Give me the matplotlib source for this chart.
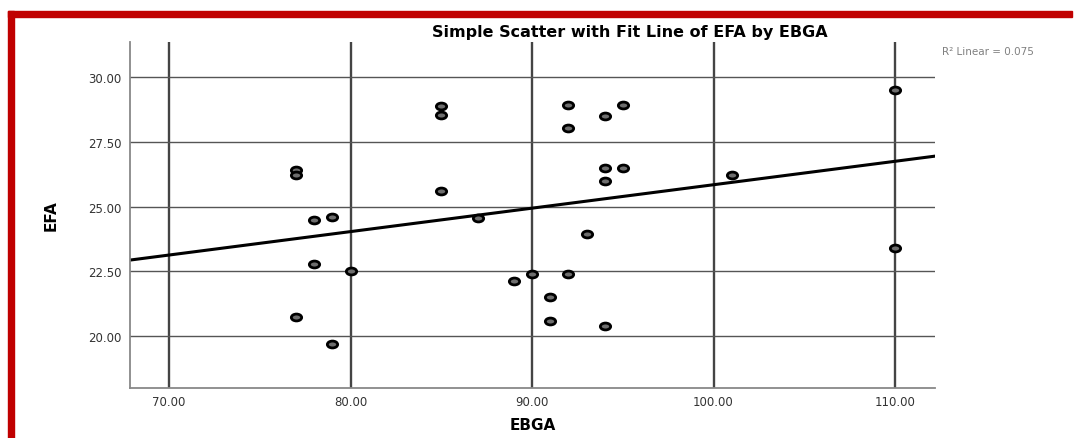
import numpy as np
import matplotlib
matplotlib.use('Agg')
import matplotlib.pyplot as plt
from matplotlib.path import Path
from matplotlib.transforms import Affine2D
from matplotlib.patches import Rectangle

# EBGA vs EFA
ebga = [77, 77, 77, 78, 78, 79, 79, 80, 85, 85, 85, 87, 89, 90, 91, 91,
        92, 92, 92, 93, 94, 94, 94, 94, 95, 95, 101, 110, 110]
efa = [26.4, 26.22, 20.75, 24.5, 22.8, 24.6, 19.68, 22.5, 28.87, 28.52, 25.59,
       24.56, 22.14, 22.41, 21.53, 20.6, 28.9, 28.02, 22.4, 23.95, 28.51, 26.5,
       25.97, 20.4, 28.9, 26.5, 26.23, 29.51, 23.4]
x_ticks = [70, 80, 90, 100, 110]
y_ticks = [20, 22.5, 25, 27.5, 30]

x = np.array(ebga, dtype=float)
y = np.array(efa, dtype=float)
slope, intercept = np.polyfit(x, y, 1)
r2 = np.corrcoef(x, y)[0, 1] ** 2

plt.rcParams['font.family'] = ['DejaVu Sans']

fig = plt.figure(figsize=(10.76, 4.39), dpi=100)
ax = fig.add_axes([0.1204, 0.1132, 0.749, 0.789])

xlim = (67.82, 112.23)
ax.set_xlim(*xlim)
ax.set_ylim(17.99, 31.35)

for v in x_ticks:
    ax.axvline(v, color='#444444', lw=1.7, zorder=1)
for v in y_ticks:
    ax.axhline(v, color='#555555', lw=1.0, zorder=1)

xs = np.array(xlim)
ax.plot(xs, slope * xs + intercept, color='black', lw=2.2, zorder=2)

ellipse = Path.unit_circle().transformed(Affine2D().scale(1.5, 1.0))
ax.scatter(x, y, s=55, marker=ellipse, facecolor='#6e6e6e', edgecolor='black',
           linewidths=2.0, zorder=3)

ax.set_xticks(x_ticks)
ax.set_xticklabels([f'{v:.2f}' for v in x_ticks])
ax.set_yticks(y_ticks)
ax.set_yticklabels([f'{v:.2f}' for v in y_ticks])
ax.tick_params(length=0, labelsize=8.5, colors='#333333')
ax.tick_params(axis='x', pad=4.5)
ax.tick_params(axis='y', pad=6)

for s in ['top', 'right']:
    ax.spines[s].set_visible(False)
for s in ['left', 'bottom']:
    ax.spines[s].set_color('#888888')
    ax.spines[s].set_linewidth(1.3)

ax.set_xlabel('EBGA', fontsize=11, fontweight='bold', labelpad=7)
ax.set_ylabel('EFA', fontsize=11, fontweight='bold', labelpad=21)

fig.text(630 / 1076, 1 - 32 / 439, 'Simple Scatter with Fit Line of EFA by EBGA',
         ha='center', va='center', fontsize=11.5, fontweight='bold')
fig.text(942 / 1076, 1 - 52 / 439, f'R\u00b2 Linear = {r2:.3f}',
         ha='left', va='center', fontsize=7.5, color='#808080')

# red frame along top and left
fig.patches.append(Rectangle((8 / 1076, 0), 6 / 1076, 1 - 12 / 439,
                             transform=fig.transFigure, color='#c00000', zorder=5))
fig.patches.append(Rectangle((8 / 1076, 1 - 18 / 439), 1064 / 1076, 6 / 439,
                             transform=fig.transFigure, color='#c00000', zorder=5))

fig.savefig('out.png', dpi=100)
